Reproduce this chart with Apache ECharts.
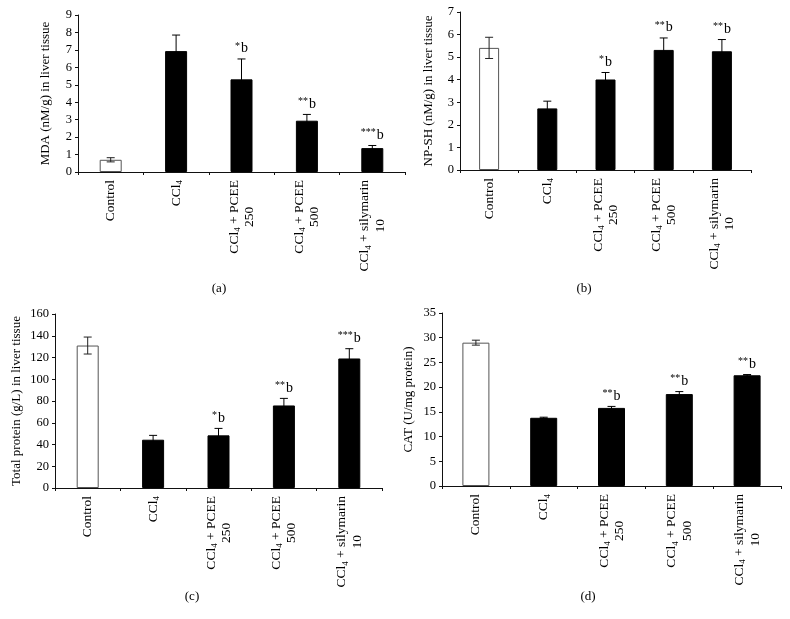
<!DOCTYPE html>
<html><head><meta charset="utf-8">
<script src="https://cdn.jsdelivr.net/npm/echarts@6/dist/echarts.min.js"></script>
<style>html,body{margin:0;padding:0;background:#fff}#c{width:790px;height:619px}</style>
</head><body><div id="c"></div>
<script>
const categories = ['Control', 'CCl4', 'CCl4 + PCEE\n250', 'CCl4 + PCEE\n500', 'CCl4 + silymarin\n10'];

const mdaMean = [0.70, 6.93, 5.31, 2.94, 1.37];
const mdaErr  = [0.12, 0.92, 1.17, 0.36, 0.15];
const mdaSig  = ['', '', '*', '**', '***'];

const npshMean = [5.41, 2.73, 4.01, 5.32, 5.26];
const npshErr  = [0.47, 0.32, 0.31, 0.53, 0.52];
const npshSig  = ['', '', '*', '**', '**'];

const tpMean = [131.0, 44.4, 48.4, 75.9, 119.1];
const tpErr  = [7.8, 4.0, 6.4, 6.5, 9.0];
const tpSig  = ['', '', '*', '**', '***'];

const catMean = [29.0, 13.8, 15.8, 18.6, 22.4];
const catErr  = [0.5, 0.12, 0.3, 0.5, 0.15];
const catSig  = ['', '', '**', '**', '**'];

const yNames = ['MDA (nM/g) in liver tissue', 'NP-SH (nM/g) in liver tissue', 'Total protein (g/L) in liver tissue', 'CAT (U/mg protein)'];
const yMax = [9, 7, 160, 35];
const yInterval = [1, 1, 20, 5];
const panelLetters = ['(a)', '(b)', '(c)', '(d)'];

const FONT = '"Liberation Serif", "Times New Roman", serif';

const panels = [
  {mean: mdaMean, err: mdaErr, sig: mdaSig, grid: {left: 78, right: 385, top: 15, bottom: 447}, nameGap: 26, barWidth: 22},
  {mean: npshMean, err: npshErr, sig: npshSig, grid: {left: 460, right: 39, top: 12, bottom: 449}, nameGap: 25, barWidth: 20},
  {mean: tpMean, err: tpErr, sig: tpSig, grid: {left: 55, right: 408, top: 314, bottom: 131}, nameGap: 32, barWidth: 22},
  {mean: catMean, err: catErr, sig: catSig, grid: {left: 442, right: 9, top: 313, bottom: 133}, nameGap: 27, barWidth: 27}
];

function labelFormatter(v) {
  const lines = v.split('\n');
  const fmt = s => s.replace('CCl4', 'CCl{sub|4}');
  let out = fmt(lines[0]);
  if (lines.length > 1) out += '\n{c|' + lines[1] + '}';
  return out;
}

function errRender(meanArr, errArr, sigArr) {
  return function (params, api) {
    const i = params.dataIndex;
    const m = meanArr[i], e = errArr[i];
    const top = api.coord([i, m + e]);
    const bot = api.coord([i, m - e]);
    const x = top[0];
    const ls = {stroke: i === 0 ? '#222' : '#000', lineWidth: 1};
    const children = [
      {type: 'line', shape: {x1: x, y1: top[1], x2: x, y2: bot[1]}, style: ls},
      {type: 'line', shape: {x1: x - 4, y1: top[1], x2: x + 4, y2: top[1]}, style: ls},
      {type: 'line', shape: {x1: x - 4, y1: bot[1], x2: x + 4, y2: bot[1]}, style: ls}
    ];
    if (sigArr[i]) {
      children.push({
        type: 'text',
        style: {
          text: '{s|' + sigArr[i] + '}{b|b}',
          x: x, y: top[1] - 3,
          align: 'center', verticalAlign: 'bottom',
          fontFamily: FONT, fill: '#000',
          rich: {
            s: {fontSize: 10, fontFamily: FONT, verticalAlign: 'top', lineHeight: 15, padding: [0, 1, 0, 0]},
            b: {fontSize: 14, fontFamily: FONT, lineHeight: 15}
          }
        }
      });
    }
    return {type: 'group', children: children};
  };
}

const grids = [], xAxes = [], yAxes = [], series = [];
panels.forEach((p, k) => {
  grids.push(Object.assign({outerBoundsMode: 'none', containLabel: false}, p.grid));
  xAxes.push({
    type: 'category', gridIndex: k, data: categories, boundaryGap: true,
    axisLine: {show: true, lineStyle: {color: '#111', width: 1}},
    axisTick: {show: true, length: 3, lineStyle: {color: '#111'}},
    splitLine: {show: false},
    axisLabel: {
      rotate: 90, interval: 0, margin: 8, color: '#000', fontSize: 13.5, fontFamily: FONT,
      formatter: labelFormatter,
      rich: {
        sub: {fontSize: 9, fontFamily: FONT, verticalAlign: 'bottom', lineHeight: 16},
        c: {fontSize: 13.5, fontFamily: FONT, align: 'center', lineHeight: 15}
      }
    }
  });
  yAxes.push({
    type: 'value', gridIndex: k, min: 0, max: yMax[k], interval: yInterval[k],
    name: yNames[k], nameLocation: 'middle', nameGap: p.nameGap, nameRotate: 90,
    nameTextStyle: {color: '#000', fontSize: 13, fontFamily: FONT},
    axisLine: {show: true, lineStyle: {color: '#111', width: 1}},
    axisTick: {show: true, length: 3, lineStyle: {color: '#111'}},
    splitLine: {show: false},
    axisLabel: {color: '#000', fontSize: 12.5, fontFamily: FONT, margin: 6}
  });
  series.push({
    type: 'bar', xAxisIndex: k, yAxisIndex: k, barWidth: p.barWidth,
    data: p.mean.map((v, i) => ({
      value: v,
      itemStyle: i === 0 ? {color: '#fff', borderColor: '#555', borderWidth: 1} : {color: '#000', borderColor: '#000', borderWidth: 1}
    })),
    silent: true, z: 2
  });
  series.push({
    type: 'custom', xAxisIndex: k, yAxisIndex: k, z: 3, silent: true,
    data: p.mean.map((v, i) => [i, v]),
    encode: {x: 0, y: 1},
    renderItem: errRender(p.mean, p.err, p.sig)
  });
});

const letterPos = [[219, 289], [584, 289], [192, 597], [588, 597]];
const graphics = panelLetters.map((t, k) => ({
  type: 'text', x: letterPos[k][0], y: letterPos[k][1],
  style: {text: t, fill: '#000', font: '13px ' + FONT, align: 'center', verticalAlign: 'middle'}
}));

const chart = echarts.init(document.getElementById('c'), null, {renderer: 'canvas'});
chart.setOption({
  animation: false,
  backgroundColor: '#fff',
  grid: grids, xAxis: xAxes, yAxis: yAxes, series: series,
  graphic: graphics
});
</script></body></html>
